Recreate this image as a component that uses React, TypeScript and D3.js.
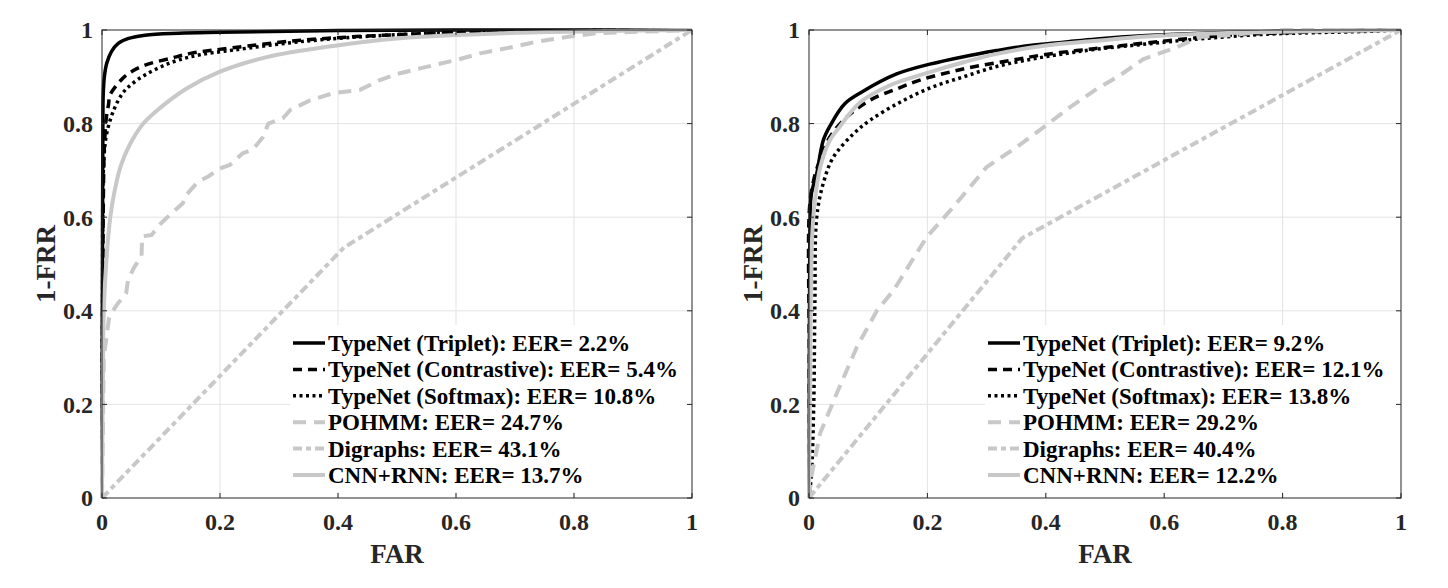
import * as d3 from 'd3';
import React from 'react';

type Pt = [number, number];

// legend entries, in plotting order
const methods = [
  'TypeNet (Triplet)',
  'TypeNet (Contrastive)',
  'TypeNet (Softmax)',
  'POHMM',
  'Digraphs',
  'CNN+RNN',
];
const leftEer = ['2.2', '5.4', '10.8', '24.7', '43.1', '13.7'];
const rightEer = ['9.2', '12.1', '13.8', '29.2', '40.4', '12.2'];
const tickValues = [0, 0.2, 0.4, 0.6, 0.8, 1];

// left panel ROC curves: [FAR, 1-FRR]
const leftTriplet: Pt[] = [
  [0, 0], [0.0005, 0.37], [0.001, 0.6], [0.0015, 0.8], [0.002, 0.86], [0.004, 0.9],
  [0.008, 0.929], [0.016, 0.954], [0.028, 0.972], [0.045, 0.982], [0.073, 0.989],
  [0.13, 0.993], [0.2, 0.995], [0.4, 0.999], [0.7, 1], [1, 1],
];
const leftContrastive: Pt[] = [
  [0, 0], [0.001, 0.4], [0.002, 0.6], [0.004, 0.75], [0.008, 0.82], [0.011, 0.84],
  [0.0136, 0.861], [0.03, 0.89], [0.045, 0.907], [0.073, 0.925], [0.118, 0.94],
  [0.15, 0.95], [0.222, 0.962], [0.336, 0.978], [0.5, 0.99], [0.7, 0.997], [1, 1],
];
const leftSoftmax: Pt[] = [
  [0, 0], [0.001, 0.4], [0.003, 0.72], [0.008, 0.779], [0.02, 0.829], [0.035, 0.865],
  [0.05, 0.884], [0.073, 0.904], [0.101, 0.922], [0.13, 0.936], [0.166, 0.947],
  [0.222, 0.957], [0.336, 0.975], [0.5, 0.99], [0.7, 0.997], [1, 1],
];
const leftPohmm: Pt[] = [
  [0, 0], [0.003, 0.3], [0.012, 0.385], [0.016, 0.395], [0.027, 0.416], [0.041, 0.437],
  [0.044, 0.466], [0.055, 0.494], [0.067, 0.516], [0.068, 0.559], [0.084, 0.562],
  [0.1, 0.587], [0.115, 0.605], [0.137, 0.63], [0.143, 0.648], [0.163, 0.676],
  [0.18, 0.687], [0.2, 0.704], [0.217, 0.712], [0.239, 0.737], [0.256, 0.745],
  [0.272, 0.77], [0.282, 0.8], [0.307, 0.812], [0.319, 0.829], [0.353, 0.85],
  [0.392, 0.865], [0.437, 0.872], [0.471, 0.893], [0.5, 0.906], [0.539, 0.918],
  [0.601, 0.936], [0.641, 0.95], [0.697, 0.964], [0.737, 0.975], [0.793, 0.986],
  [0.838, 0.993], [1, 1],
];
const leftDigraphs: Pt[] = [[0, 0], [0.41, 0.535], [1, 1]];
const leftCnnRnn: Pt[] = [
  [0, 0], [0.001, 0.2], [0.003, 0.4], [0.007, 0.5], [0.014, 0.6], [0.022, 0.66],
  [0.032, 0.71], [0.045, 0.75], [0.07, 0.8], [0.098, 0.833], [0.1435, 0.875],
  [0.2, 0.911], [0.279, 0.942], [0.392, 0.966], [0.5, 0.982], [0.7, 0.994],
  [0.85, 0.998], [1, 1],
];

// right panel ROC curves
const rightTriplet: Pt[] = [
  [0, 0], [0.0005, 0.25], [0.001, 0.45], [0.002, 0.6], [0.004, 0.65], [0.013, 0.693],
  [0.024, 0.764], [0.0355, 0.795], [0.06, 0.842], [0.09, 0.868], [0.148, 0.906],
  [0.204, 0.927], [0.261, 0.943], [0.317, 0.956], [0.373, 0.967], [0.43, 0.974],
  [0.486, 0.981], [0.57, 0.988], [0.75, 0.996], [1, 1],
];
const rightContrastive: Pt[] = [
  [0, 0], [0.0005, 0.3], [0.001, 0.622], [0.008, 0.68], [0.018, 0.721], [0.035, 0.771],
  [0.064, 0.814], [0.103, 0.85], [0.148, 0.874], [0.1875, 0.893], [0.238, 0.91],
  [0.289, 0.924], [0.345, 0.936], [0.396, 0.947], [0.452, 0.956], [0.503, 0.963],
  [0.559, 0.971], [0.7, 0.988], [0.85, 0.996], [1, 1],
];
const rightSoftmax: Pt[] = [
  [0, 0], [0.004, 0.05], [0.008, 0.2], [0.01, 0.423], [0.013, 0.6], [0.024, 0.672],
  [0.041, 0.728], [0.075, 0.778], [0.103, 0.807], [0.15, 0.843], [0.204, 0.876],
  [0.261, 0.9], [0.317, 0.922], [0.373, 0.937], [0.43, 0.949], [0.486, 0.959],
  [0.57, 0.97], [0.66, 0.981], [0.773, 0.991], [0.94, 0.997], [1, 1],
];
const rightPohmm: Pt[] = [
  [0, 0], [0.004, 0.046], [0.019, 0.139], [0.047, 0.224], [0.081, 0.323], [0.115, 0.401],
  [0.143, 0.444], [0.199, 0.558], [0.244, 0.622], [0.3, 0.707], [0.351, 0.75],
  [0.396, 0.792], [0.441, 0.835], [0.486, 0.874], [0.525, 0.903], [0.565, 0.938],
  [0.621, 0.963], [0.66, 0.985], [0.717, 0.99], [0.8, 1], [1, 1],
];
const rightDigraphs: Pt[] = [[0, 0], [0.36, 0.555], [1, 1]];
const rightCnnRnn: Pt[] = [
  [0, 0], [0.002, 0.3], [0.005, 0.55], [0.01, 0.636], [0.019, 0.707], [0.035, 0.764],
  [0.05, 0.79], [0.086, 0.845], [0.137, 0.882], [0.204, 0.91], [0.261, 0.931],
  [0.317, 0.949], [0.4, 0.967], [0.486, 0.977], [0.57, 0.986], [0.75, 0.995], [1, 1],
];

const leftSeries = [leftTriplet, leftContrastive, leftSoftmax, leftPohmm, leftDigraphs, leftCnnRnn];
const rightSeries = [rightTriplet, rightContrastive, rightSoftmax, rightPohmm, rightDigraphs, rightCnnRnn];

const GRAY = '#c8c8c8';
const lineStyles = [
  { color: '#000', width: 3.5, dash: undefined as string | undefined, smooth: true },
  { color: '#000', width: 3.5, dash: '9,6', smooth: true },
  { color: '#000', width: 3.5, dash: '3,3.5', smooth: true },
  { color: GRAY, width: 4, dash: '13,8', smooth: false },
  { color: GRAY, width: 4, dash: '9,4,5,4', smooth: false },
  { color: GRAY, width: 4, dash: undefined, smooth: true },
];

const FONT = '"Liberation Serif", "Times New Roman", serif';
const AXIS = '#262626';

const top = 30;
const bottom = 498;

interface PanelProps {
  left: number;
  right: number;
  series: Pt[][];
  eer: string[];
  legendLeft: number;
}

const Panel: React.FC<PanelProps> = ({ left, right, series, eer, legendLeft }) => {
  const x = d3.scaleLinear().domain([0, 1]).range([left, right]);
  const y = d3.scaleLinear().domain([0, 1]).range([bottom, top]);
  const smoothLine = d3
    .line<Pt>()
    .x(d => x(d[0]))
    .y(d => y(d[1]))
    .curve(d3.curveCatmullRom.alpha(0.5));
  const straightLine = d3
    .line<Pt>()
    .x(d => x(d[0]))
    .y(d => y(d[1]));

  const legendTop = 325;
  const rowY = (i: number) => 343 + i * 26.4;

  return (
    <g>
      {/* grid */}
      <g stroke='#e3e3e3' strokeWidth={1}>
        {tickValues.slice(1, -1).map(t => (
          <line key={'gx' + t} x1={x(t)} x2={x(t)} y1={top} y2={bottom} />
        ))}
        {tickValues.slice(1, -1).map(t => (
          <line key={'gy' + t} x1={left} x2={right} y1={y(t)} y2={y(t)} />
        ))}
      </g>

      {/* curves */}
      {series.map((s, i) => (
        <path
          key={i}
          d={(lineStyles[i].smooth ? smoothLine : straightLine)(s) || ''}
          fill='none'
          stroke={lineStyles[i].color}
          strokeWidth={lineStyles[i].width}
          strokeDasharray={lineStyles[i].dash}
          strokeLinejoin='round'
        />
      ))}

      {/* legend */}
      <rect x={legendLeft} y={legendTop} width={right - legendLeft} height={bottom - 6 - legendTop} fill='white' />
      {methods.map((m, i) => (
        <g key={m}>
          <line
            x1={legendLeft + 3}
            x2={legendLeft + 35}
            y1={rowY(i)}
            y2={rowY(i)}
            stroke={lineStyles[i].color}
            strokeWidth={lineStyles[i].width}
            strokeDasharray={lineStyles[i].dash}
          />
          <text
            x={legendLeft + 38}
            y={rowY(i)}
            dy='0.35em'
            fontFamily={FONT}
            fontWeight='bold'
            fontSize={23}
            fill='#000'
          >
            {`${m}: EER= ${eer[i]}%`}
          </text>
        </g>
      ))}

      {/* frame and ticks */}
      <rect x={left} y={top} width={right - left} height={bottom - top} fill='none' stroke={AXIS} strokeWidth={1} />
      <g stroke={AXIS} strokeWidth={1}>
        {tickValues.map(t => (
          <g key={'t' + t}>
            <line x1={x(t)} x2={x(t)} y1={bottom} y2={bottom - 5} />
            <line x1={x(t)} x2={x(t)} y1={top} y2={top + 5} />
            <line x1={left} x2={left + 5} y1={y(t)} y2={y(t)} />
            <line x1={right} x2={right - 5} y1={y(t)} y2={y(t)} />
          </g>
        ))}
      </g>

      {/* tick labels */}
      <g fontFamily={FONT} fontWeight='bold' fontSize={24} fill={AXIS}>
        {tickValues.map(t => (
          <text key={'xl' + t} x={x(t)} y={530} textAnchor='middle'>
            {String(t)}
          </text>
        ))}
        {tickValues.map(t => (
          <text key={'yl' + t} x={left - 9} y={y(t)} dy='0.35em' textAnchor='end'>
            {String(t)}
          </text>
        ))}
      </g>

      {/* axis titles */}
      <text
        x={(left + right) / 2}
        y={563}
        textAnchor='middle'
        fontFamily={FONT}
        fontWeight='bold'
        fontSize={27}
        fill={AXIS}
      >
        FAR
      </text>
      <text
        transform={`translate(${left - 47},${(top + bottom) / 2}) rotate(-90)`}
        textAnchor='middle'
        fontFamily={FONT}
        fontWeight='bold'
        fontSize={27}
        fill={AXIS}
      >
        1-FRR
      </text>
    </g>
  );
};

const App: React.FC = () => {
  return (
    <div style={{ position: 'absolute', left: 0, top: 0, backgroundColor: 'white' }}>
      <svg width={1448} height={588}>
        <rect width={1448} height={588} fill='white' />
        <Panel left={102} right={692} series={leftSeries} eer={leftEer} legendLeft={290} />
        <Panel left={809} right={1401} series={rightSeries} eer={rightEer} legendLeft={985} />
      </svg>
    </div>
  );
};

export default App;
